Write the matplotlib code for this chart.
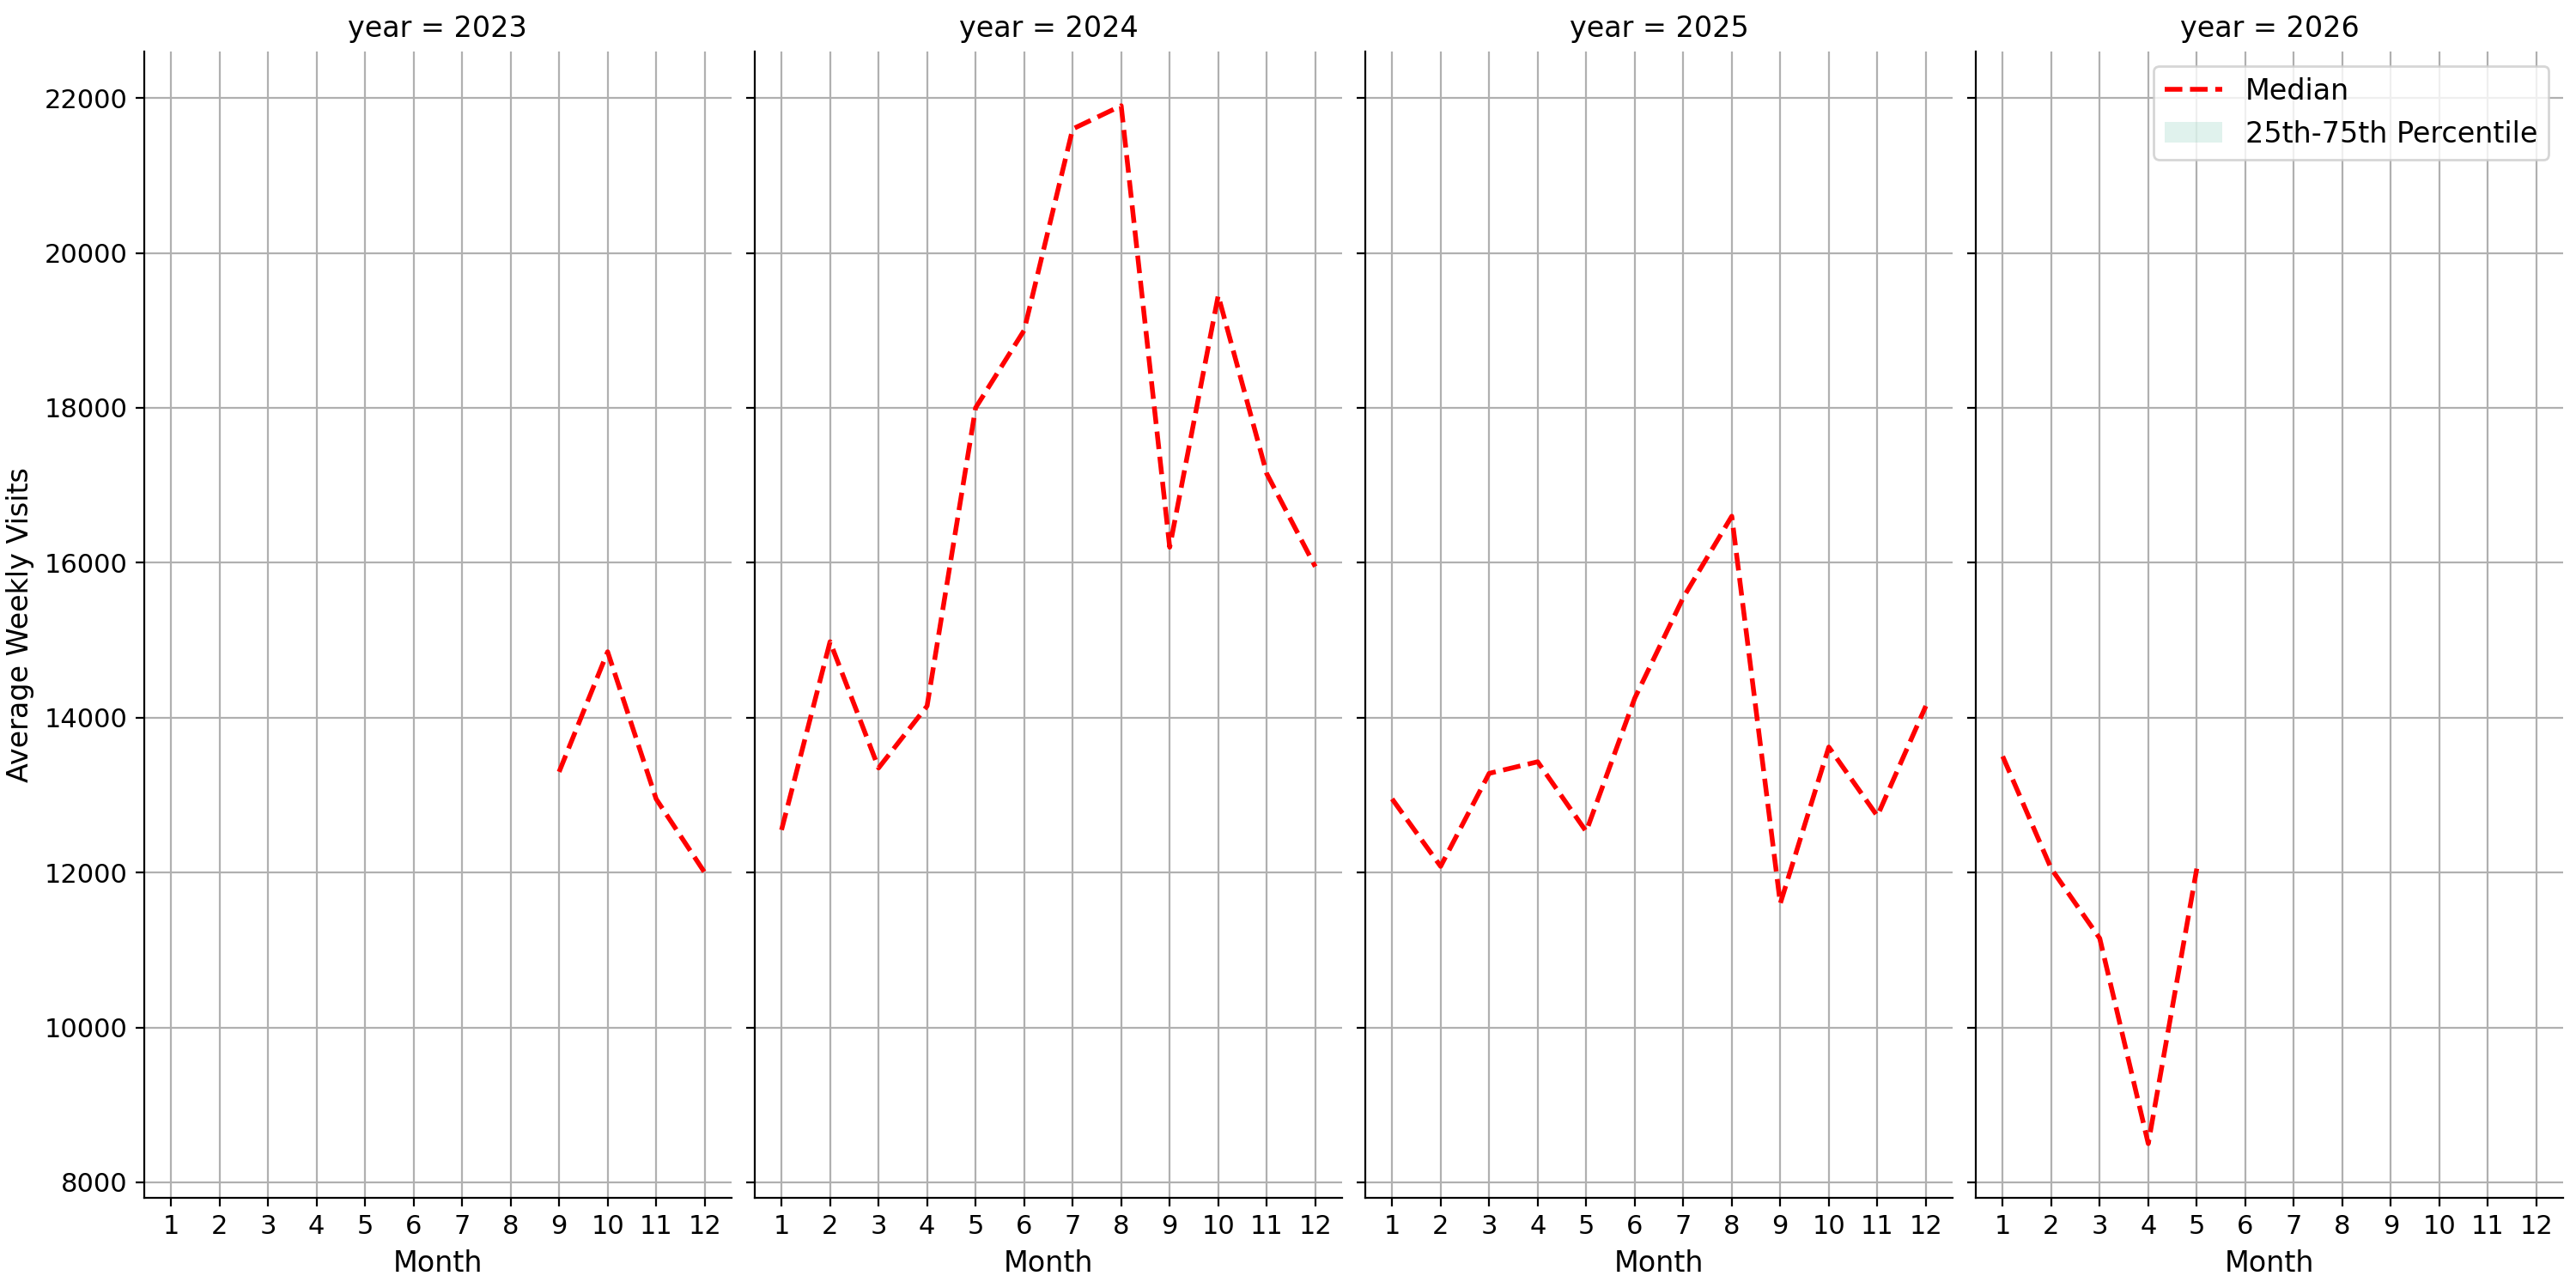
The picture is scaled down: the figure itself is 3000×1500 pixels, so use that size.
import matplotlib
matplotlib.use("Agg")
import matplotlib.pyplot as plt
from matplotlib.patches import Patch
from matplotlib.lines import Line2D

years = [2023, 2024, 2025, 2026]
months = {
    2023: [9, 10, 11, 12],
    2024: list(range(1, 13)),
    2025: list(range(1, 13)),
    2026: [1, 2, 3, 4, 5],
}
median_visits = {
    2023: [13300, 14850, 12950, 12000],
    2024: [12550, 14980, 13350, 14150, 18000, 19000, 21600, 21900, 16200, 19450, 17150, 15950],
    2025: [12950, 12080, 13280, 13430, 12530, 14250, 15550, 16600, 11600, 13620, 12730, 14150],
    2026: [13500, 12050, 11150, 8500, 12050],
}

fig, axes = plt.subplots(1, 4, figsize=(15, 7.5), dpi=200, sharey=True)
for ax, yr in zip(axes, years):
    ax.plot(months[yr], median_visits[yr], color="red", linestyle="--", linewidth=2)
    ax.set_title(f"year = {yr}", fontsize=12)
    ax.set_xticks(range(1, 13))
    ax.set_xlim(0.45, 12.55)
    ax.set_ylim(7800, 22600)
    ax.grid(True, color="#b0b0b0", linewidth=0.8)
    ax.set_axisbelow(True)
    ax.spines["top"].set_visible(False)
    ax.spines["right"].set_visible(False)
    ax.set_xlabel("Month", fontsize=12)
    ax.tick_params(labelsize=11)
axes[0].set_ylabel("Average Weekly Visits", fontsize=12)

handles = [
    Line2D([], [], color="red", linestyle="--", linewidth=2),
    Patch(facecolor="#66c2a5", alpha=0.2),
]
axes[-1].legend(handles, ["Median", "25th-75th Percentile"], loc="upper right", fontsize=12)

fig.subplots_adjust(left=0.056, right=0.995, top=0.96, bottom=0.07, wspace=0.04)
fig.savefig("out.png")
